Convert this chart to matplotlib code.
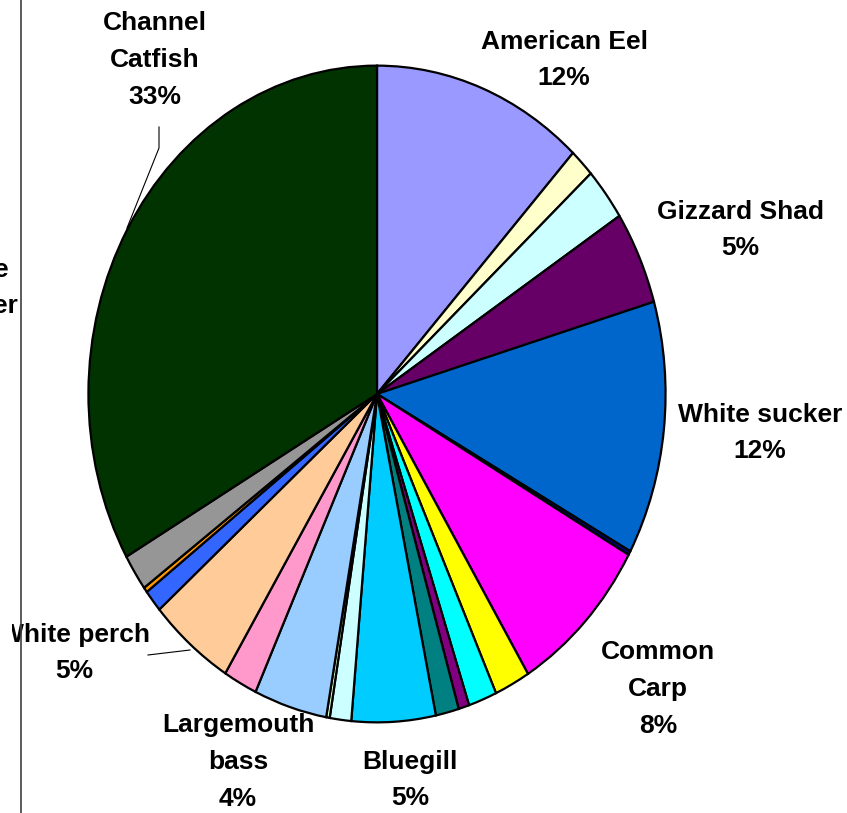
import numpy as np
import matplotlib.pyplot as plt
from matplotlib.patches import Rectangle

# slices, clockwise from 12 o'clock (percent of catch)
species = ["American Eel", "", "", "Gizzard Shad", "White sucker", "",
           "Common Carp", "", "", "", "", "Bluegill", "", "",
           "Largemouth bass", "", "White perch", "", "", "", "Channel Catfish"]
share = [11.9, 1.4, 2.6, 4.6, 12.5, 0.2,
         8.1, 2.0, 1.6, 0.6, 1.3, 4.7, 1.2, 0.2,
         4.1, 1.9, 4.8, 1.1, 0.25, 1.8, 33.3]
colors = ["#9999FF", "#FFFFCC", "#CCFFFF", "#660066", "#0066CC", "#000080",
          "#FF00FF", "#FFFF00", "#00FFFF", "#800080", "#008080", "#00CCFF", "#CCFFFF", "#CCFFCC",
          "#99CCFF", "#FF99CC", "#FFCC99", "#3366FF", "#FF9900", "#969696", "#003300"]

# shown labels (text) and their pixel centres in the 847x813 picture
label_text = {
    "American Eel": "American Eel\n12%",
    "Gizzard Shad": "Gizzard Shad\n5%",
    "White sucker": "White sucker\n12%",
    "Common Carp": "Common\nCarp\n8%",
    "Bluegill": "Bluegill\n5%",
    "Largemouth bass": "Largemouth\nbass\n4%",
    "White perch": "White perch\n5%",
    "Channel Catfish": "Channel\nCatfish\n33%",
}
label_pos = {
    "American Eel": (564, 60),
    "Gizzard Shad": (740, 230),
    "White sucker": (760, 433),
    "Common Carp": (658, 689),
    "Bluegill": (410, 780),
    "Largemouth bass": (238, 762),
    "White perch": (74, 653),
    "Channel Catfish": (155, 60),
}

W, H = 847, 813
fig = plt.figure(figsize=(W / 100, H / 100), dpi=100)

def px(x, y):
    return x / W, 1 - y / H

# pie is an ellipse: centre (377, 394), rx 290, ry 330
cx, cy, rx, ry = 377, 394, 290, 330
ax = fig.add_axes([(cx - rx) / W, (H - cy - ry) / H, 2 * rx / W, 2 * ry / H])
ax.pie(share, colors=colors, startangle=90, counterclock=False, radius=1,
       wedgeprops=dict(edgecolor="black", linewidth=1.6))
ax.set_aspect("auto")
ax.set_xlim(-1.005, 1.005)
ax.set_ylim(-1.005, 1.005)
ax.axis("off")

font = dict(family=["Liberation Sans", "DejaVu Sans"], fontweight="bold",
            fontsize=19, ha="center", va="center", linespacing=1.68)
for name, txt in label_text.items():
    x, y = px(*label_pos[name])
    fig.text(x, y, txt, **font)

# leader lines
fig.add_artist(plt.Line2D([148 / W, 190 / W], [1 - 655 / H, 1 - 650 / H],
                          color="black", lw=0.8))
fig.add_artist(plt.Line2D([159 / W, 159 / W, 127 / W],
                          [1 - 127 / H, 1 - 148 / H, 1 - 228 / H],
                          color="black", lw=0.8))

# edge of neighbouring chart on the left (hides the start of "White perch")
fig.add_artist(Rectangle((0, 1 - 650 / H), 12 / W, 30 / H, transform=fig.transFigure,
                         facecolor="white", edgecolor="none", zorder=5))
fig.add_artist(plt.Line2D([20.5 / W, 20.5 / W], [0, 1], color="#404040", lw=1.2, zorder=6))
fig.text(9 / W, 1 - 270 / H, "e", fontsize=19, fontweight="bold",
         family=["Liberation Sans"], ha="right", va="center")
fig.text(18 / W, 1 - 306 / H, "er", fontsize=19, fontweight="bold",
         family=["Liberation Sans"], ha="right", va="center")

fig.savefig("out.png", dpi=100, facecolor="white")
